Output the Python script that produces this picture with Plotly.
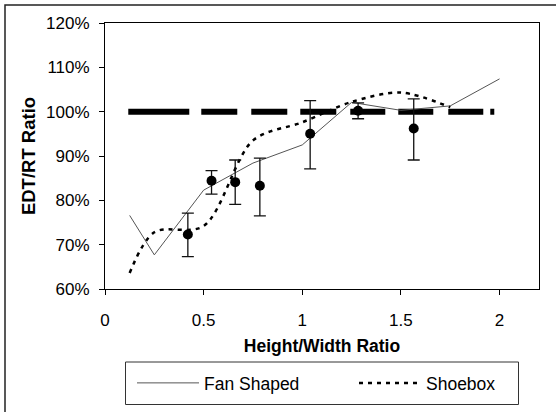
import plotly.graph_objects as go

# ---- data ----
fan_x = [0.125, 0.25, 0.5, 0.75, 1.0, 1.25, 1.5, 1.75, 2.0]
fan_y = [76.6, 67.7, 82.3, 88.4, 92.5, 102.1, 100.3, 101.3, 107.4]

shoe_x = [0.125, 0.25, 0.5, 0.75, 1.0, 1.25, 1.5, 1.75]
shoe_y = [63.6, 72.8, 74.2, 93.5, 97.6, 102.2, 104.3, 101.0]

meas_x = [0.42, 0.54, 0.66, 0.785, 1.04, 1.283, 1.565]
meas_y = [72.3, 84.4, 84.1, 83.3, 95.0, 100.2, 96.2]
meas_hi = [77.1, 86.7, 89.1, 89.5, 102.5, 102.0, 102.9]
meas_lo = [67.3, 81.4, 79.1, 76.5, 87.1, 98.4, 89.1]

ref_x = [0.118, 1.975]
ref_y = [100, 100]

x_ticks = [0, 0.5, 1, 1.5, 2]
x_tick_text = ["0", "0.5", "1", "1.5", "2"]
y_ticks = [60, 70, 80, 90, 100, 110, 120]
y_tick_text = ["60%", "70%", "80%", "90%", "100%", "110%", "120%"]

FONT = "Liberation Sans, Arial, sans-serif"
W, H = 556, 412

fig = go.Figure()

fig.add_trace(go.Scatter(
    x=ref_x, y=ref_y, mode="lines", showlegend=False, hoverinfo="skip",
    line=dict(color="black", width=6,
              dash="61px,12px,36px,14px,36px,13px,36px,14px,35px,13px,35px,15px,35px,7px,4px,50px"),
))

fig.add_trace(go.Scatter(
    x=fan_x, y=fan_y, mode="lines", name="Fan Shaped", legend="legend",
    line=dict(color="#555555", width=1),
))

fig.add_trace(go.Scatter(
    x=shoe_x, y=shoe_y, mode="lines", name="Shoebox", legend="legend2",
    line=dict(color="black", width=2.5, dash="4px,5px", shape="spline", smoothing=0.9),
))

fig.add_trace(go.Scatter(
    x=meas_x, y=meas_y, mode="markers", showlegend=False,
    marker=dict(color="black", size=10),
    error_y=dict(type="data", symmetric=False,
                 array=[h - y for h, y in zip(meas_hi, meas_y)],
                 arrayminus=[y - l for l, y in zip(meas_lo, meas_y)],
                 color="#111111", thickness=1.3, width=6),
))

# plot area: x 105..539, y 23..289 (px)
def px_x(p):
    return (p - 105) / 434.0

def px_y(p):
    return (289 - p) / 266.0

shapes = [
    dict(type="rect", xref="paper", yref="paper",
         x0=px_x(5), x1=px_x(562), y0=px_y(418), y1=px_y(5),
         line=dict(color="#222222", width=1.5), layer="below"),
    dict(type="rect", xref="paper", yref="paper",
         x0=px_x(125.5), x1=px_x(518.5), y0=px_y(404.5), y1=px_y(362),
         line=dict(color="#333333", width=1)),
]

leg_common = dict(orientation="h", xref="container", yref="container",
                  xanchor="left", yanchor="middle",
                  bgcolor="rgba(0,0,0,0)", borderwidth=0, itemwidth=62,
                  font=dict(family=FONT, size=17.5, color="black"))

fig.update_layout(
    width=W, height=H,
    margin=dict(l=105, r=17, t=23, b=123),
    paper_bgcolor="white", plot_bgcolor="white",
    font=dict(family=FONT, size=17, color="black"),
    shapes=shapes,
    showlegend=True,
    legend=dict(x=132 / W, y=1 - 383 / H, **leg_common),
    legend2=dict(x=354 / W, y=1 - 383 / H, **leg_common),
    xaxis=dict(range=[0, 2.2], tickvals=x_ticks, ticktext=x_tick_text,
               ticks="outside", ticklen=5, tickcolor="black", tickwidth=1,
               showline=True, linecolor="black", linewidth=1, mirror=True,
               showgrid=False, zeroline=False, ticklabelstandoff=11,
               automargin=False,
               title=dict(text="<b>Height/Width Ratio</b>", standoff=10,
                          font=dict(family=FONT, size=17.5))),
    yaxis=dict(range=[60, 120], tickvals=y_ticks, ticktext=y_tick_text,
               ticks="outside", ticklen=5, tickcolor="black", tickwidth=1,
               showline=True, linecolor="black", linewidth=1, mirror=True,
               showgrid=False, zeroline=False, ticklabelstandoff=6,
               automargin=False,
               title=dict(text="<b>EDT/RT Ratio</b>", standoff=5,
                          font=dict(family=FONT, size=18.5))),
)

fig.write_html("out.html", config={"displayModeBar": False},
               post_script="document.body.style.margin='0';")
